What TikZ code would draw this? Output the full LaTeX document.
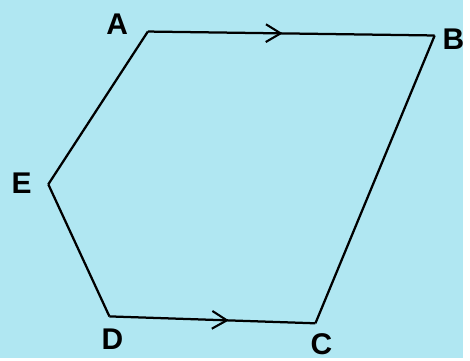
\documentclass[tikz,border=0pt]{standalone}
\usepackage{fontspec}
\setsansfont{Liberation Sans}
\usetikzlibrary{arrows.meta,decorations.markings}
\definecolor{bgblue}{RGB}{176,231,242}
\tikzset{
  midarrow/.style={postaction={decorate},decoration={markings,
    mark=at position #1 with {\arrow{Straight Barb[length=3mm,width=3.6mm,line width=1.2pt]}}}},
  vlabel/.style={font=\sffamily\LARGE\bfseries}
}
\begin{document}
\begin{tikzpicture}[x=0.02cm,y=-0.02cm,line width=1.3pt]
                    \fill[bgblue] (0,0) rectangle (470,363);
                    % Nodes
                    \coordinate (A) at (150,32);
                    \coordinate (B) at (441,36);
                    \coordinate (C) at (320,328);
                    \coordinate (D) at (111,321);
                    \coordinate (E) at (49,187);
                    \node[vlabel] (a) at (119,25) {A};
                    \node[vlabel] (b) at (460,40) {B};
                    \node[vlabel] (c) at (326,349) {C};
                    \node[vlabel] (d) at (114,344) {D};
                    \node[vlabel] (e) at (22,186) {E};
                    % Edges
                    \draw[midarrow=0.47] (A) -- (B);
                    \draw (B) -- (C);
                    \draw[midarrow=0.58] (D) -- (C);
                    \draw (D) -- (E);
                    \draw (E) -- (A);
                \end{tikzpicture}
\end{document}
